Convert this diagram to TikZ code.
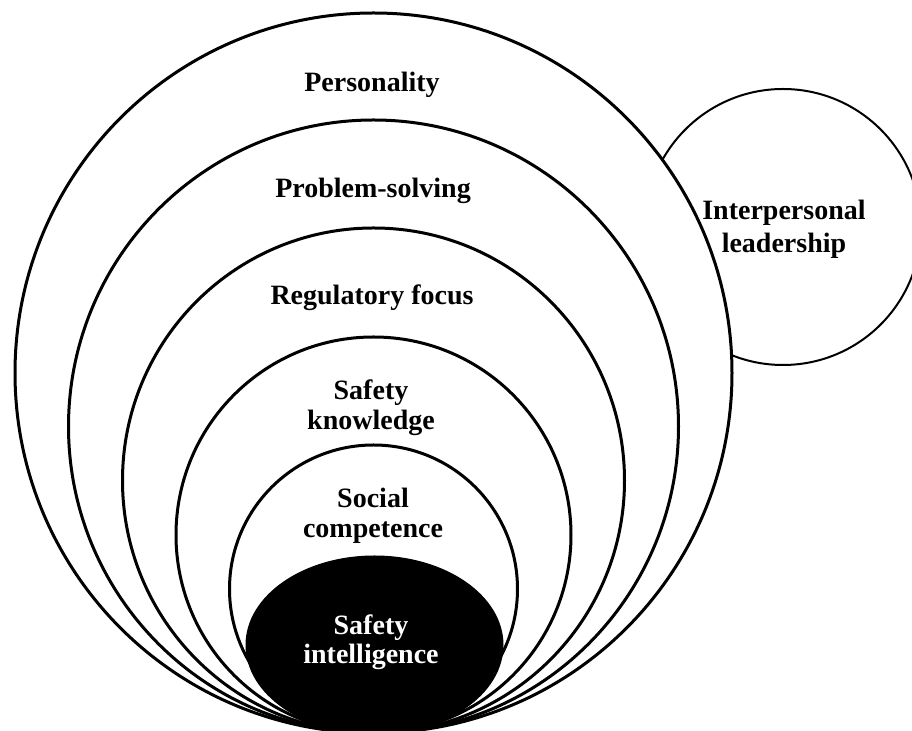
\documentclass[tikz,border=0pt]{standalone}
\usepackage{fontspec}
\setmainfont{Liberation Serif}
\begin{document}
\begin{tikzpicture}[x=0.5pt,y=-0.5pt,
  ring/.style={draw=black,line width=1.5pt,fill=white},
  core/.style={draw=black,line width=1.5pt,fill=black},
  side/.style={draw=black,line width=1pt,fill=white},
  lbl/.style={font=\fontsize{14}{15}\selectfont\bfseries,anchor=base,inner sep=0pt},
  wlbl/.style={lbl,text=white}]
\useasboundingbox (0,0) rectangle (912,731);
% side circle
\draw[side] (783,227) ellipse [x radius=138, y radius=138];
% nested ellipses touching at the bottom
\draw[ring] (373.5,373) ellipse [x radius=358.5, y radius=360];
\draw[ring] (373.5,426.5) ellipse [x radius=305, y radius=306.5];
\draw[ring] (373.5,480.5) ellipse [x radius=251, y radius=252.5];
\draw[ring] (373.5,535) ellipse [x radius=197.5, y radius=198];
\draw[ring] (373.5,589) ellipse [x radius=144, y radius=144];
\draw[core] (374.5,645) ellipse [x radius=127.5, y radius=88];
% labels
\node[lbl] (pers) at (372,92) {Personality};
\node[lbl] (prob) at (373,198) {Problem-solving};
\node[lbl] (reg) at (372,305) {Regulatory focus};
\node[lbl] (sk1) at (371,400) {Safety};
\node[lbl] (sk2) at (371,430) {knowledge};
\node[lbl] (sc1) at (373,508) {Social};
\node[lbl] (sc2) at (373,538) {competence};
\node[wlbl] (si1) at (371,635) {Safety};
\node[wlbl] (si2) at (371,664) {intelligence};
\node[lbl] (il1) at (784,220) {Interpersonal};
\node[lbl] (il2) at (784,253) {leadership};
\end{tikzpicture}
\end{document}
